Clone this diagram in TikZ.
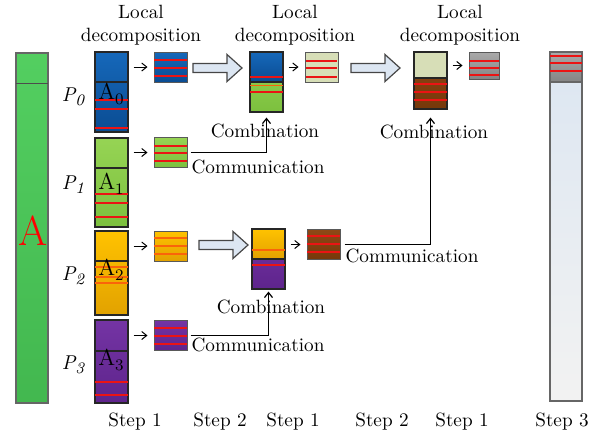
\documentclass[tikz,border=0pt]{standalone}
\definecolor{barGreen}{RGB}{74,204,88}
\definecolor{blkBlue}{RGB}{22,104,186}
\definecolor{blkBlueD}{RGB}{10,76,146}
\definecolor{blkGreen}{RGB}{150,212,84}
\definecolor{blkGreenD}{RGB}{124,192,62}
\definecolor{blkOrange}{RGB}{255,194,0}
\definecolor{blkOrangeD}{RGB}{226,162,0}
\definecolor{blkPurple}{RGB}{116,52,164}
\definecolor{blkPurpleD}{RGB}{94,36,140}
\definecolor{blkBeige}{RGB}{215,222,183}
\definecolor{blkBrown}{RGB}{142,72,22}
\definecolor{blkBrownD}{RGB}{118,56,10}
\definecolor{blkGray}{RGB}{170,170,170}
\definecolor{blkGrayD}{RGB}{132,132,132}
\definecolor{arrowFill}{RGB}{220,230,242}
\definecolor{cutRed}{RGB}{235,20,20}
\definecolor{cutOrange}{RGB}{250,100,10}
\usetikzlibrary{arrows.meta,positioning}
\newcommand{\lowsub}[1]{\raisebox{-.45ex}{\fontsize{8}{8}\selectfont#1}}

\begin{document}
\begin{tikzpicture}[x=0.5pt,y=-0.5pt,
  every node/.style={font=\fontsize{9.6}{11.8}\selectfont},
  blk/.style={draw=black!85,line width=0.6pt,inner sep=0,minimum width=16.5pt},
  sq/.style={draw=gray!70!black,line width=0.5pt,inner sep=0,
             minimum width=16.5pt,minimum height=15pt},
  cut/.style={cutRed,line width=0.6pt},
  tip/.style={-{Straight Barb[length=2.5pt,width=4pt]},line width=0.5pt,
              shorten <=2.5pt,shorten >=3pt},
  fat/.style={draw=gray!55!black,fill=arrowFill,line width=0.6pt},
  comm/.style={-{Straight Barb[length=2.5pt,width=4pt]},line width=0.6pt}]
  \useasboundingbox (0,0) rectangle (593,434);

  %% matrix A
  \node[draw=gray!80!black,line width=0.6pt,inner sep=0,minimum width=16pt,
        minimum height=175pt,top color=barGreen!95!white,bottom color=barGreen!90!black]
        (barA) at (32,228) {};
  \draw[gray!60!black,line width=0.5pt] (16,83) -- (48,83);
  \node[text=red,font=\fontsize{21}{21}\selectfont] (lblA) at (33,231) {A};

  %% step 1: blocks of the four processes
  \node[blk,minimum height=40pt,top color=blkBlue,bottom color=blkBlueD] (b0) at (111.5,92) {};
  \node[blk,minimum height=44.5pt,top color=blkGreen,bottom color=blkGreenD] (b1) at (111.5,182.5) {};
  \node[blk,minimum height=42pt,top color=blkOrange,bottom color=blkOrangeD] (b2) at (111.5,273) {};
  \node[blk,minimum height=41.5pt,top color=blkPurple,bottom color=blkPurpleD] (b3) at (111.5,361.5) {};
  \draw[black!85,line width=0.6pt] (95,82) -- (128,82) (95,168) -- (128,168)
        (95,261) -- (128,261) (95,351) -- (128,351);
  \draw[cut] (95,100) -- (128,100) (95,109) -- (128,109) (95,128) -- (128,128);
  \draw[cut] (95,194) -- (128,194) (95,203) -- (128,203) (95,217) -- (128,217);
  \draw[cut,cutOrange] (95,267) -- (128,267) (95,277) -- (128,277) (95,283) -- (128,283);
  \draw[cut] (95,382) -- (128,382) (95,395) -- (128,395);

  \node[font=\fontsize{11.5}{11.5}\selectfont] (a0) at (111,94) {A\lowsub{0}};
  \node[font=\fontsize{11.5}{11.5}\selectfont] (a1) at (111,184) {A\lowsub{1}};
  \node[font=\fontsize{11.5}{11.5}\selectfont] (a2) at (111,270) {A\lowsub{2}};
  \node[font=\fontsize{11.5}{11.5}\selectfont] (a3) at (111,360) {A\lowsub{3}};

  \foreach \i/\y in {0/97,1/185,2/276,3/365}
    \node[font=\fontsize{10}{10}\selectfont\itshape] (p\i) at (73,\y) {P\lowsub{\i}};

  %% step 1: local pieces
  \node[sq,top color=blkBlue,bottom color=blkBlueD] (s0) at (170.5,67) {};
  \node[sq,top color=blkGreen,bottom color=blkGreenD] (s1) at (170.5,152.5) {};
  \node[sq,top color=blkOrange,bottom color=blkOrangeD] (s2) at (170.5,246) {};
  \node[sq,top color=blkPurple,bottom color=blkPurpleD] (s3) at (170.5,335.5) {};
  \draw[cut] (154,60) -- (187,60) (154,68) -- (187,68) (154,76) -- (187,76);
  \draw[cut] (154,146) -- (187,146) (154,153) -- (187,153) (154,161) -- (187,161);
  \draw[cut,cutOrange] (154,238) -- (187,238) (154,246) -- (187,246) (154,254) -- (187,254);
  \draw[cut] (154,328) -- (187,328) (154,336) -- (187,336) (154,344) -- (187,344);
  \foreach \i in {0,...,3}
    \draw[tip] (b\i.east |- s\i.west) -- (s\i.west);

  %% step 2: transfer arrows
  \foreach \x/\y in {193/68,351/68,199/245}
    \draw[fat] (\x,\y-4.5) -- ++(34,0) -- ++(0,-9) -- ++(15,13.5)
               -- ++(-15,13.5) -- ++(0,-9) -- ++(-34,0) -- cycle;

  %% second round: combined blocks
  \node[blk,minimum height=30pt,top color=blkGreen,bottom color=blkGreenD] (c0) at (266.5,82) {};
  \shade[top color=blkBlue,bottom color=blkBlueD] (250,52) rectangle (283,82);
  \draw[black!85,line width=0.6pt] (250,52) rectangle (283,112) (250,82) -- (283,82);
  \draw[cut] (250,77) -- (283,77) (250,92) -- (283,92);
  \draw[cut,cutOrange] (250,85.5) -- (283,85.5);

  \node[blk,minimum height=30pt,top color=blkPurple,bottom color=blkPurpleD] (c1) at (268.5,259) {};
  \shade[top color=blkOrange,bottom color=blkOrangeD] (252,229) rectangle (285,259);
  \draw[black!85,line width=0.6pt] (252,229) rectangle (285,289) (252,259) -- (285,259);
  \draw[cut,cutOrange] (252,250) -- (285,250);
  \draw[cut] (252,265) -- (285,265);

  \node[sq,fill=blkBeige] (t0) at (321.5,67) {};
  \draw[cut] (306,61) -- (337,61) (306,68) -- (337,68) (306,77) -- (337,77);
  \node[sq,top color=blkBrown,bottom color=blkBrownD] (t1) at (323.5,244.5) {};
  \draw[cut] (307,236) -- (340,236) (307,244) -- (340,244) (307,252) -- (340,252);
  \draw[tip] (c0.east |- t0.west) -- (t0.west);
  \draw[tip] (c1.east |- t1.west) -- (t1.west);

  %% third round
  \node[blk,minimum height=28.5pt,top color=blkBrown,bottom color=blkBrownD] (c2) at (430.5,80.5) {};
  \fill[blkBeige] (414,52) rectangle (447,78);
  \draw[black!85,line width=0.6pt] (414,52) rectangle (447,109) (414,78) -- (447,78);
  \draw[cut] (414,84) -- (447,84) (414,92) -- (447,92) (414,100) -- (447,100);
  \node[sq,minimum width=15pt,minimum height=13.5pt,top color=blkGray,bottom color=blkGrayD] (r0) at (484,65.5) {};
  \draw[cut] (469,61) -- (499,61) (469,68) -- (499,68) (469,75) -- (499,75);
  \draw[tip] (c2.east |- r0.west) -- (r0.west);

  %% result
  \node[draw=gray!80!black,line width=0.6pt,inner sep=0,minimum width=16pt,
        minimum height=174.5pt,top color=arrowFill,bottom color=gray!10]
        (barR) at (566,226.5) {};
  \shade[top color=blkGray,bottom color=blkGrayD] (550,52) rectangle (582,82);
  \draw[gray!80!black,line width=0.6pt] (550,52) rectangle (582,401) (550,82) -- (582,82);
  \draw[cut] (550,56) -- (582,56) (550,63) -- (582,63) (550,71) -- (582,71);

  %% communication and combination
  \draw[comm,shorten >=2.5pt] (s1.east) ++(3,0) -| (c0.south);
  \draw[comm,shorten >=1pt] (s3.east) ++(3,0) -| (c1.south);
  \draw[comm,shorten >=4pt] (t1.east) ++(4,0) -| (c2.south);
  \node (cb0) at (265,131) {Combination};
  \node (cb1) at (271,307) {Combination};
  \node (cb2) at (434,132) {Combination};
  \node (cm0) at (258,167) {Communication};
  \node (cm1) at (258,345) {Communication};
  \node (cm2) at (412,256) {Communication};

  %% headings
  \foreach \x [count=\k] in {141,295,460}
    \node[align=center] (ld\k) at (\x,25) {Local\\decomposition};
  \foreach \x/\s [count=\k] in {135/1,220/2,293/1,382/2,462/1,562/3}
    \node (st\k) at (\x,422) {Step \s};
\end{tikzpicture}
\end{document}
